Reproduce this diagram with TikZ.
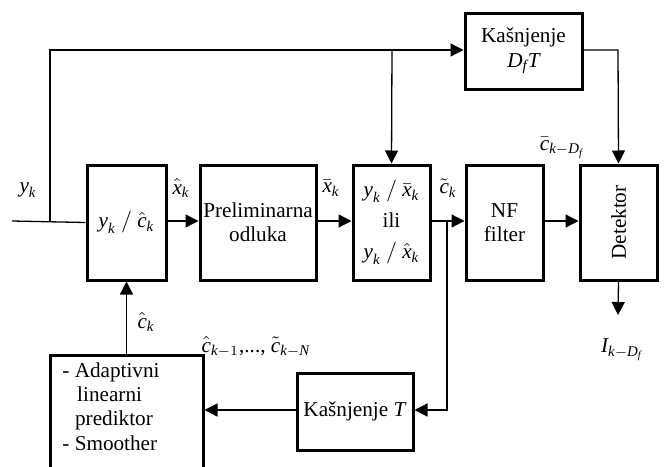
\documentclass[tikz,border=0pt]{standalone}
\usepackage{amsmath}
\usepackage{fontspec}
\setmainfont{Liberation Serif}
\usetikzlibrary{arrows.meta}
\newcommand{\iv}[1]{\text{\itshape #1}}
\begin{document}
\begin{tikzpicture}[x=0.5pt,y=-0.5pt,
  every node/.style={font=\fontsize{10.6}{12.5}\selectfont},
  blk/.style={draw,line width=1.5pt,inner sep=0pt,align=center},
  conn/.style={line width=0.65pt},
  arr/.style={conn,-{Triangle[length=6.5pt,width=6.5pt]}},
  lbl/.style={inner sep=0pt}]
\useasboundingbox (0,0) rectangle (664,466);
% blocks
\node[blk,minimum width=58.5pt,minimum height=38pt] (dft) at (523.5,51) {Kašnjenje\\[0pt]$\iv{D}_{\iv{f}}\iv{T}$};
\node[blk,minimum width=39.5pt,minimum height=57.5pt] (b1) at (126.5,222.5) {$\iv{y}_{\iv{k}}\ /\ \hat{\iv{c}}_{\iv{k}}$};
\node[blk,minimum width=58pt,minimum height=57.5pt] (b2) at (258,222.5) {Preliminarna\\[-0.5pt]odluka};
\node[blk,minimum width=38.5pt,minimum height=57.5pt] (b3) at (391.5,222.5) {$\iv{y}_{\iv{k}}\ /\ \bar{\iv{x}}_{\iv{k}}$\\[3pt]ili\\[3pt]$\iv{y}_{\iv{k}}\ /\ \hat{\iv{x}}_{\iv{k}}$};
\node[blk,minimum width=38.5pt,minimum height=57.5pt] (nf) at (504.5,222.5) {NF\\[-0.5pt]filter};
\node[blk,minimum width=38.5pt,minimum height=57.5pt] (det) at (618.5,222.5) {\rotatebox{90}{Detektor}};
\node[blk,minimum width=58pt,minimum height=38.5pt] (kt) at (355,411.5) {Kašnjenje \textit{T}};
\begin{scope}
\clip (0,0) rectangle (664,466);
\node[blk,minimum width=76.5pt,minimum height=66pt,anchor=north] (ad) at (126.5,354) {};
\end{scope}
\node[lbl,align=left,anchor=north west] (adt) at (62,362) {- Adaptivni\\[-0.3pt]\hspace{0.7em}linearni\\[-0.3pt]\hspace{0.6em}prediktor\\[-0.3pt]- Smoother};
% coordinates
\coordinate (in) at (12,221);
\coordinate (j1) at (50,221);
\coordinate (c1) at (50,50);
\coordinate (j2) at (392,50);
\coordinate (c2) at (618,50);
\coordinate (j3) at (447,221);
\coordinate (c3) at (447,410);
\coordinate (out) at (618,315);
% connectors
\draw[conn] (in) -- (b1.west);
\draw[arr] (j1) -- (c1) -- (dft.west |- c1);
\draw[arr] (j2) -- (b3.north);
\draw[arr] (dft.east |- c2) -- (c2) -- (det.north);
\draw[arr] (det.south) -- (out);
\draw[arr] (b1.east |- in) -- (b2.west |- in);
\draw[arr] (b2.east |- in) -- (b3.west |- in);
\draw[arr] (b3.east |- in) -- (nf.west |- in);
\draw[arr] (nf.east |- in) -- (det.west |- in);
\draw[arr] (j3) -- (c3) -- (kt.east |- c3);
\draw[arr] (kt.west |- c3) -- (ad.east |- c3);
\draw[arr] (ad.north) -- (b1.south);
% labels
\node[lbl] (lyk) at (28,190) {$\iv{y}_{\iv{k}}$};
\node[lbl] (lxh) at (181,188) {$\hat{\iv{x}}_{\iv{k}}$};
\node[lbl] (lxb) at (331,188) {$\bar{\iv{x}}_{\iv{k}}$};
\node[lbl] (lct) at (448,188) {$\tilde{\iv{c}}_{\iv{k}}$};
\node[lbl] (lcb) at (562,148) {$\bar{\iv{c}}_{\iv{k}-\iv{D}_{\iv{f}}}$};
\node[lbl] (lch) at (146,322) {$\hat{\iv{c}}_{\iv{k}}$};
\node[lbl] (lcs) at (256,347) {$\hat{\iv{c}}_{\iv{k}-1}$,..., $\tilde{\iv{c}}_{\iv{k}-\iv{N}}$};
\node[lbl] (lI) at (622,350) {$\iv{I}_{\iv{k}-\iv{D}_{\iv{f}}}$};
\end{tikzpicture}
\end{document}
